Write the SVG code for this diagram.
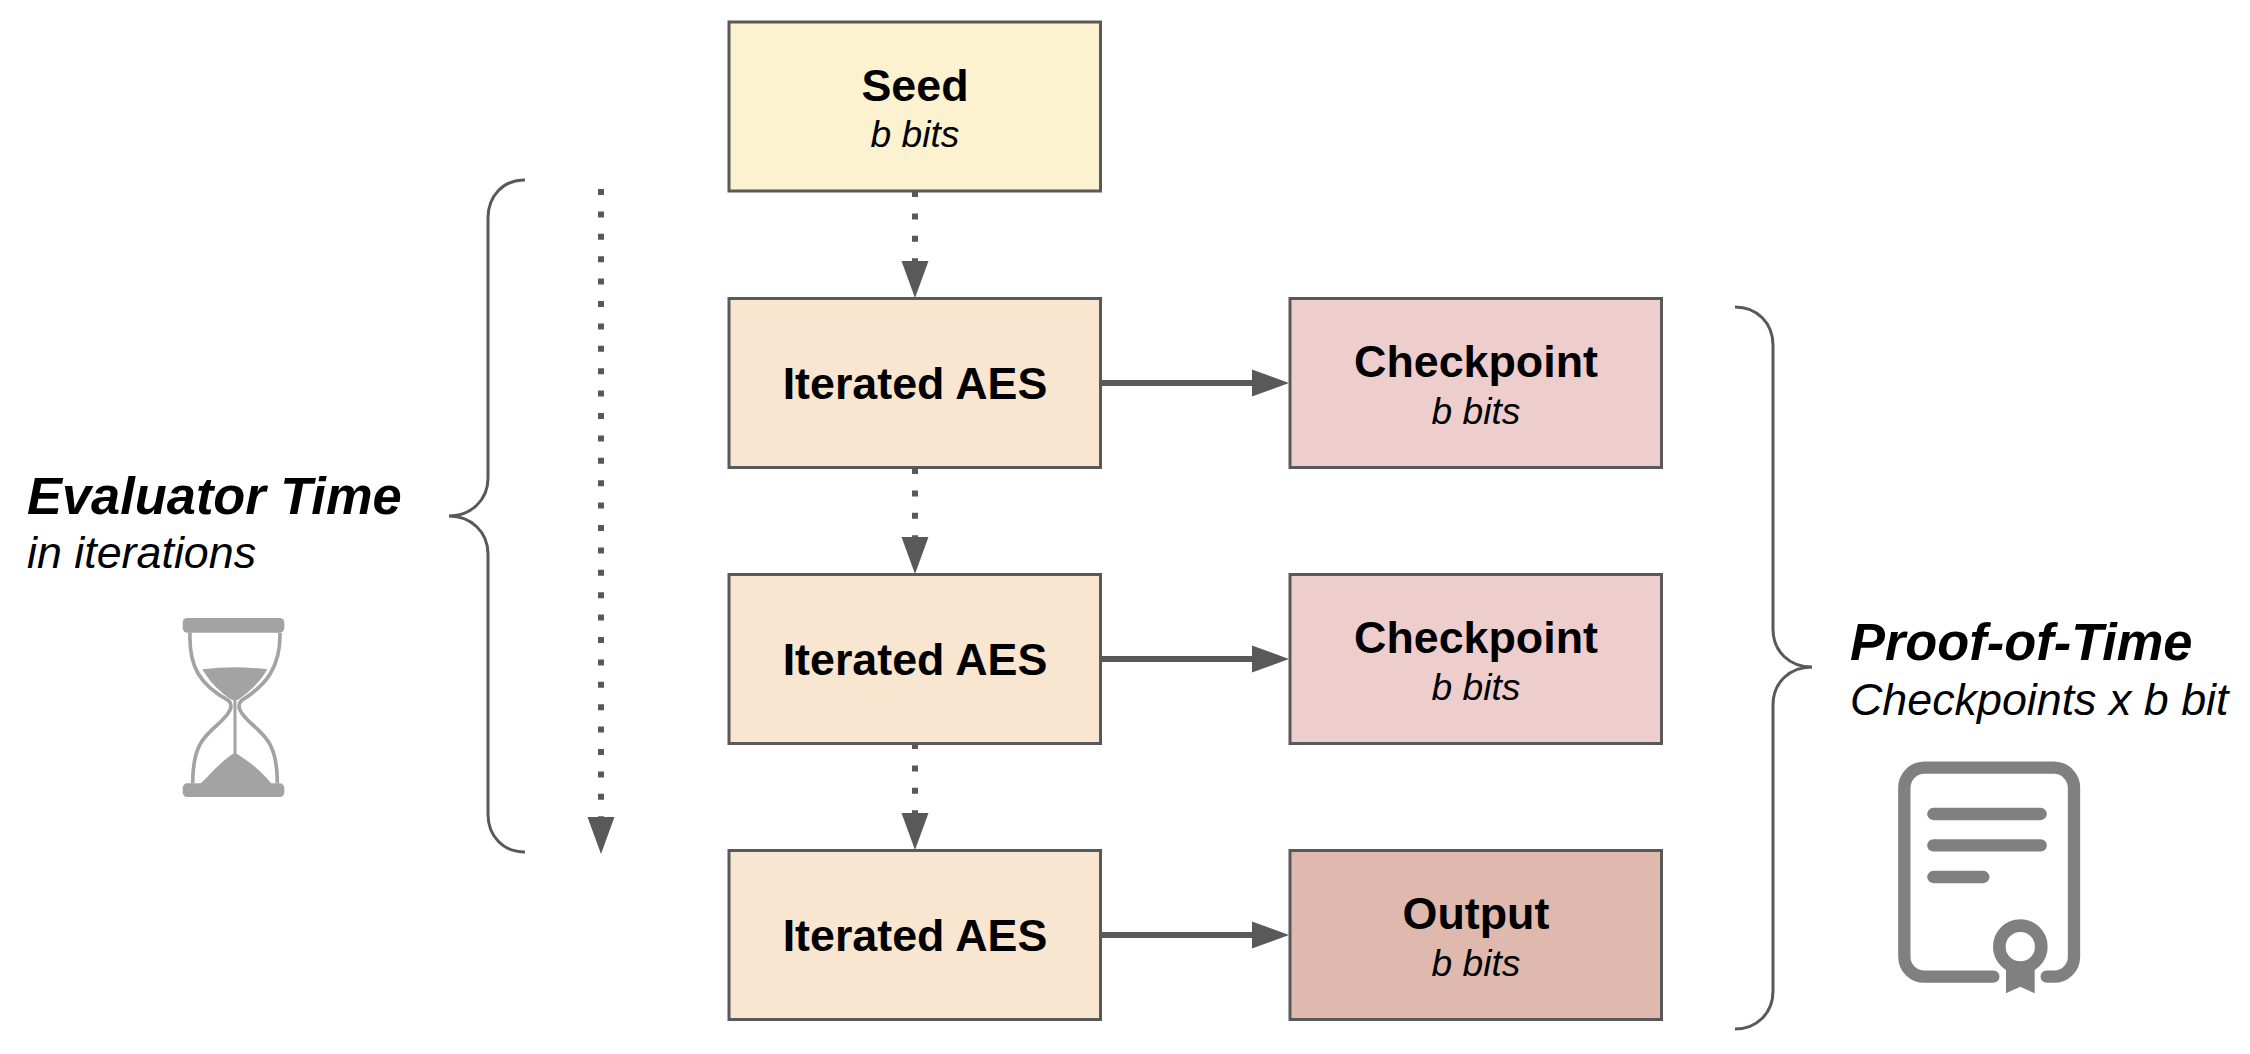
<svg xmlns="http://www.w3.org/2000/svg" width="2250" height="1054" viewBox="0 0 2250 1054">
<style>
text{font-family:"Liberation Sans",Arial,sans-serif;fill:#000}
.t{font-size:44.8px;font-weight:bold;text-anchor:middle}
.s{font-size:37.2px;font-style:italic;text-anchor:middle}
.h{font-size:52.4px;font-weight:bold;font-style:italic}
.u{font-size:44.8px;font-style:italic}
.box{stroke:#595959;stroke-width:3}
.solid{fill:none;stroke:#595959;stroke-width:6}
.dot{fill:none;stroke:#595959;stroke-width:6;stroke-dasharray:6 16.4}
.brace{fill:none;stroke:#595959;stroke-width:3}
.ag{fill:#a3a3a3}
.agl{fill:none;stroke:#a3a3a3;stroke-width:11}
.cl{fill:none;stroke:#808080;stroke-width:37;stroke-linecap:round}
</style>
<defs>
<g id="headD"><path d="M-13.500,-37H13.500L0,0Z" fill="#595959"/></g>
<g id="headR"><path d="M-37,-13.500V13.500L0,0Z" fill="#595959"/></g>
</defs>
<rect width="2250" height="1054" fill="#fff"/>
<g id="connectors">
<path class="dot" d="M915,191V265"/><use href="#headD" x="915" y="298"/>
<path class="dot" d="M915,468V540"/><use href="#headD" x="915" y="574"/>
<path class="dot" d="M915,743V817"/><use href="#headD" x="915" y="850"/>
<path class="dot" d="M601,189V822"/><use href="#headD" x="601" y="854"/>
<path class="solid" d="M1100,383H1256"/><use href="#headR" x="1289" y="383"/>
<path class="solid" d="M1100,659H1256"/><use href="#headR" x="1289" y="659"/>
<path class="solid" d="M1100,935H1256"/><use href="#headR" x="1289" y="935"/>
</g>
<g id="brace-left"><path class="brace" d="M525,180C503,180 488,196 488,218V478C488,500 471,516 449,516C471,516 488,532 488,554V814C488,836 503,852 525,852"/></g>
<g id="brace-right"><path class="brace" d="M1735,307C1757,307 1773,323 1773,345V629C1773,651 1789,667 1812,667C1789,667 1773,683 1773,705V991C1773,1013 1757,1029 1735,1029"/></g>
<g id="seed"><rect class="box" x="729" y="22" width="371.500" height="169" fill="#fdf2d0"/><text class="t" x="915" y="101">Seed</text><text class="s" x="915" y="147">b bits</text></g>
<g id="aes1"><rect class="box" x="729" y="298.500" width="371.500" height="169" fill="#f8e6d0"/><text class="t" x="915" y="399">Iterated AES</text></g>
<g id="aes2"><rect class="box" x="729" y="574.500" width="371.500" height="169" fill="#f8e6d0"/><text class="t" x="915" y="675">Iterated AES</text></g>
<g id="aes3"><rect class="box" x="729" y="850.500" width="371.500" height="169" fill="#f8e6d0"/><text class="t" x="915" y="951">Iterated AES</text></g>
<g id="checkpoint1"><rect class="box" x="1290" y="298.500" width="371.500" height="169" fill="#eecdcd"/><text class="t" x="1476" y="377">Checkpoint</text><text class="s" x="1476" y="423.500">b bits</text></g>
<g id="checkpoint2"><rect class="box" x="1290" y="574.500" width="371.500" height="169" fill="#eecdcd"/><text class="t" x="1476" y="653">Checkpoint</text><text class="s" x="1476" y="699.500">b bits</text></g>
<g id="output"><rect class="box" x="1290" y="850.500" width="371.500" height="169" fill="#dfb9ae"/><text class="t" x="1476" y="929">Output</text><text class="s" x="1476" y="975.500">b bits</text></g>
<g id="evaluator-time"><text class="h" x="27" y="514">Evaluator Time</text><text class="u" x="27" y="568">in iterations</text></g>
<g id="proof-of-time"><text class="h" x="1850" y="660">Proof-of-Time</text><text class="u" x="1850" y="715">Checkpoints x b bit</text></g>
<g id="hourglass" transform="translate(150 600) scale(.33333)">
<rect class="ag" x="98" y="54" width="305" height="44" rx="14"/>
<rect class="ag" x="98" y="550" width="305" height="41" rx="14"/>
<path class="agl" d="M120,98C116,200 150,255 236,302C252,318 240,340 205,372C160,410 128,440 128,550"/>
<path class="agl" d="M390,98C392,200 350,255 274,302C258,318 270,340 305,372C350,410 382,440 382,550"/>
<path class="ag" d="M157,208Q255,196 352,208C335,240 300,275 263,300H246C205,275 175,240 157,208Z"/>
<path d="M255,300V462" fill="none" stroke="#a3a3a3" stroke-width="9"/>
<path class="ag" d="M150,552C175,530 215,480 255,458C295,480 340,520 365,552Z"/>
</g>
<g id="certificate" transform="translate(1880 750) scale(.33333)">
<path class="cl" d="M340,680H133A60,60 0 0 1 73,620V113A60,60 0 0 1 133,53H522A60,60 0 0 1 582,113V620A60,60 0 0 1 522,680H500"/>
<path class="cl" d="M160,192H482M160,286H482M160,381H310"/>
<circle cx="421" cy="590" r="63" fill="none" stroke="#808080" stroke-width="38"/>
<path d="M378,650H464V730L421,710L378,730Z" fill="#808080"/>
</g>
</svg>
